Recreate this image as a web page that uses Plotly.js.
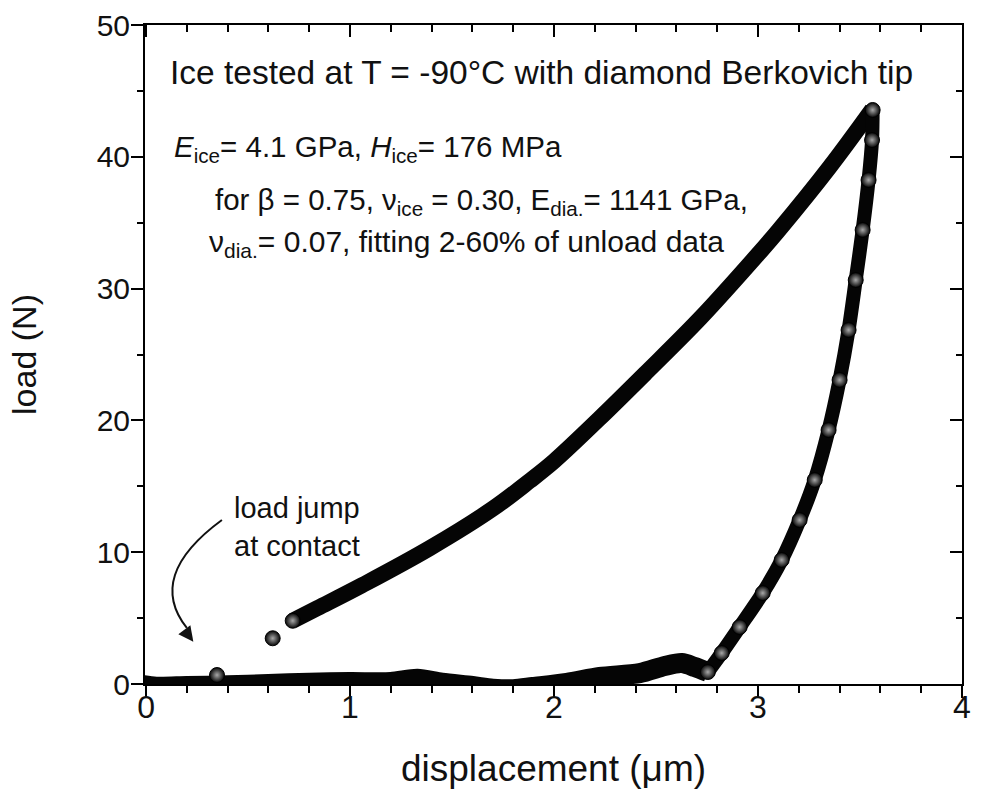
<!DOCTYPE html>
<html>
<head>
<meta charset="utf-8">
<script src="https://cdn.plot.ly/plotly-3.0.1.min.js"></script>
<style>html,body{margin:0;padding:0;background:#fff;}#chart{width:981px;height:796px;}</style>
</head>
<body>
<div id="chart"></div>
<script>
// Loading branch (displacement µm, load N)
const loadX = [0.72, 0.84, 1.06, 1.39, 1.70, 1.88, 2.00, 2.22, 2.45, 2.72, 3.00, 3.10, 3.35, 3.56];
const loadY = [4.80, 5.75, 7.50, 10.3, 13.3, 15.4, 16.9, 20.1, 23.6, 27.8, 32.6, 34.4, 39.2, 43.6];

// Unloading branch from peak down to the end of contact
const unloadX = [3.562, 3.559, 3.542, 3.513, 3.479, 3.444, 3.400, 3.346, 3.278, 3.204, 3.116, 3.023, 2.910, 2.822, 2.754];
const unloadY = [43.55, 41.27, 38.24, 34.45, 30.65, 26.86, 23.07, 19.27, 15.48, 12.44, 9.41, 6.90, 4.32, 2.35, 0.91];

// Withdrawal / baseline back to zero displacement
const baseX = [2.754, 2.690, 2.626, 2.543, 2.420, 2.224, 2.063, 1.896, 1.80, 1.70, 1.60, 1.45, 1.33, 1.20, 1.00, 0.80, 0.60, 0.40, 0.20, 0.05, -0.045];
const baseY = [0.91, 1.29, 1.59, 1.37, 0.83, 0.53, 0.08, -0.23, -0.40, -0.35, -0.15, 0.10, 0.40, 0.15, 0.15, 0.10, 0.00, -0.10, -0.15, -0.20, 0.00];

// Approach before contact and the load jump
const jumpX = [-0.045, 0.348, 0.621, 0.719];
const jumpY = [0.30, 0.68, 3.47, 4.80];

// Tick labels
const xTicks = [0, 1, 2, 3, 4];
const yTicks = [0, 10, 20, 30, 40, 50];

const FONT = 'Liberation Sans, Arial, Helvetica, sans-serif';

const sphere = {
  color: '#050505',
  size: 15,
  line: {color: '#000', width: 1},
  gradient: {type: 'radial', color: '#a8a8a8'}
};

const traces = [
  {x: baseX, y: baseY, mode: 'lines', line: {color: '#050505', width: 20, shape: 'spline', smoothing: 0.8}, hoverinfo: 'x+y', cliponaxis: false},
  {x: loadX, y: loadY, mode: 'lines', line: {color: '#050505', width: 16, shape: 'spline', smoothing: 1}, hoverinfo: 'x+y', cliponaxis: false},
  {x: unloadX, y: unloadY, mode: 'lines+markers', line: {color: '#050505', width: 14, shape: 'spline', smoothing: 0.8}, marker: sphere, hoverinfo: 'x+y', cliponaxis: false},
  {x: jumpX, y: jumpY, mode: 'markers', marker: sphere, hoverinfo: 'x+y', cliponaxis: false},
  {x: [], y: [], xaxis: 'x2', yaxis: 'y2', showlegend: false}
];

const axisCommon = {
  showgrid: false, zeroline: false, showline: true, linecolor: '#000', linewidth: 2,
  tickcolor: '#000', tickwidth: 2
};

const layout = {
  width: 981, height: 796,
  paper_bgcolor: '#fff', plot_bgcolor: '#fff',
  margin: {l: 145, r: 19, t: 25, b: 112},
  showlegend: false,
  font: {family: FONT, color: '#111'},
  xaxis: Object.assign({}, axisCommon, {
    range: [-0.005, 4.0], tickmode: 'array', tickvals: xTicks, ticktext: xTicks.map(String),
    ticks: 'outside', ticklen: 12, ticklabelstandoff: -18,
    minor: {dtick: 0.2, tick0: 0, ticks: 'outside', ticklen: 7, tickwidth: 2, tickcolor: '#000'},
    tickfont: {size: 32, family: FONT, color: '#111'},
    automargin: 'bottom',
    title: {text: 'displacement (μm)', standoff: 31, font: {size: 37, family: FONT, color: '#111'}}
  }),
  yaxis: Object.assign({}, axisCommon, {
    range: [0, 50], tickmode: 'array', tickvals: yTicks, ticktext: yTicks.map(String),
    ticks: 'outside', ticklen: 12, ticklabelstandoff: -5,
    minor: {dtick: 5, tick0: 0, ticks: 'outside', ticklen: 6, tickwidth: 2, tickcolor: '#000'},
    tickfont: {size: 30, family: FONT, color: '#111'},
    automargin: 'left',
    title: {text: 'load (N)', standoff: 50, font: {size: 34, family: FONT, color: '#111'}}
  }),
  xaxis2: Object.assign({}, axisCommon, {
    overlaying: 'x', side: 'top', matches: 'x', range: [-0.005, 4.0],
    tickmode: 'array', tickvals: xTicks, showticklabels: false,
    ticks: 'inside', ticklen: 12,
    minor: {dtick: 0.2, tick0: 0, ticks: 'inside', ticklen: 7, tickwidth: 2, tickcolor: '#000'}
  }),
  yaxis2: Object.assign({}, axisCommon, {
    overlaying: 'y', side: 'right', matches: 'y', range: [0, 50],
    tickmode: 'array', tickvals: yTicks, showticklabels: false,
    ticks: 'inside', ticklen: 12,
    minor: {dtick: 5, tick0: 0, ticks: 'inside', ticklen: 6, tickwidth: 2, tickcolor: '#000'}
  }),
  shapes: [
    {type: 'path', xref: 'x', yref: 'y', path: 'M 0.372,12.44 Q -0.002,8.19 0.2,4.25',
     line: {color: '#111', width: 2}}
  ],
  annotations: [
    {xref: 'x', yref: 'y', x: 0.108, y: 46.4, xanchor: 'left', yanchor: 'middle', showarrow: false,
     text: 'Ice tested at T = -90°C with diamond Berkovich tip', font: {size: 33.5, family: FONT, color: '#111'}},
    {xref: 'x', yref: 'y', x: 0.127, y: 40.6, xanchor: 'left', yanchor: 'middle', showarrow: false,
     text: '<i>E</i><sub>ice</sub>= 4.1 GPa, <i>H</i><sub>ice</sub>= 176 MPa', font: {size: 29.5, family: FONT, color: '#111'}},
    {xref: 'x', yref: 'y', x: 0.33, y: 36.6, xanchor: 'left', yanchor: 'middle', showarrow: false,
     text: 'for β = 0.75, ν<sub>ice</sub> = 0.30, E<sub>dia.</sub>= 1141 GPa,', font: {size: 29.5, family: FONT, color: '#111'}},
    {xref: 'x', yref: 'y', x: 0.30, y: 33.4, xanchor: 'left', yanchor: 'middle', showarrow: false,
     text: 'ν<sub>dia.</sub>= 0.07, fitting 2-60% of unload data', font: {size: 30, family: FONT, color: '#111'}},
    {xref: 'x', yref: 'y', x: 0.74, y: 11.9, xanchor: 'center', yanchor: 'middle', showarrow: false,
     text: 'load jump<br>at contact', align: 'left', font: {size: 29, family: FONT, color: '#111'}},
    {xref: 'x', yref: 'y', x: 0.232, y: 3.21, ax: -9, ay: -12, showarrow: true, text: '',
     arrowhead: 2, arrowsize: 2, arrowwidth: 1.5, arrowcolor: '#111'}
  ]
};

Plotly.newPlot('chart', traces, layout, {staticPlot: true, displayModeBar: false});
</script>
</body>
</html>
